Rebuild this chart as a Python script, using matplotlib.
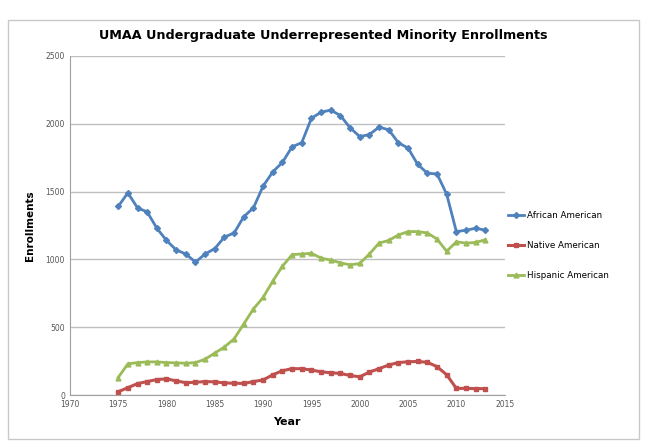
import numpy as np
import matplotlib.pyplot as plt
from matplotlib.patches import Rectangle

# Data
years = list(range(1975, 2014))
african = [1390, 1490, 1380, 1350, 1230, 1140, 1070, 1040, 980, 1040,
           1080, 1165, 1195, 1315, 1380, 1540, 1645, 1715, 1830, 1860,
           2040, 2085, 2100, 2060, 1970, 1905, 1920, 1975, 1955, 1860,
           1820, 1700, 1635, 1630, 1480, 1205, 1215, 1230, 1215]
native = [25, 55, 85, 100, 115, 120, 105, 92, 95, 100,
          98, 90, 88, 86, 100, 112, 150, 180, 195, 195,
          185, 172, 165, 160, 145, 135, 170, 195, 222, 240,
          246, 248, 242, 210, 150, 50, 50, 48, 48]
hispanic = [130, 230, 240, 245, 245, 240, 238, 235, 240, 265,
            310, 355, 415, 525, 635, 720, 840, 950, 1035, 1040,
            1045, 1010, 995, 975, 960, 970, 1040, 1120, 1140, 1180,
            1205, 1205, 1195, 1150, 1060, 1130, 1120, 1125, 1145]

x_ticks = list(range(1970, 2016, 5))
y_ticks = list(range(0, 2501, 500))

fig = plt.figure(figsize=(6.47, 4.43), dpi=100)
fig.patches.append(Rectangle((0.012, 0.01), 0.976, 0.945, transform=fig.transFigure,
                             fill=False, edgecolor='#c8c8c8', linewidth=1))
ax = fig.add_axes([0.108, 0.108, 0.672, 0.766])

ax.plot(years, african, color='#4F81BD', lw=2.0, marker='D', ms=3, label='African American')
ax.plot(years, native, color='#C0504D', lw=2.2, marker='s', ms=3.5, label='Native American')
ax.plot(years, hispanic, color='#9BBB59', lw=2.0, marker='^', ms=3.5, label='Hispanic American')

ax.set_xlim(1970, 2015)
ax.set_ylim(0, 2500)
ax.set_xticks(x_ticks)
ax.set_yticks(y_ticks)
ax.tick_params(labelsize=5.5, colors='#555555', length=0)
ax.yaxis.grid(True, color='#c0c0c0', lw=1)
ax.set_axisbelow(True)
for s in ['top', 'right']:
    ax.spines[s].set_visible(False)
for s in ['left', 'bottom']:
    ax.spines[s].set_color('#a0a0a0')

ax.set_xlabel('Year', fontsize=8, fontweight='bold', labelpad=6)
ax.set_ylabel('Enrollments', fontsize=7.5, fontweight='bold', labelpad=8)
fig.suptitle('UMAA Undergraduate Underrepresented Minority Enrollments',
             x=0.5, y=0.935, fontsize=9.2, fontweight='bold')

ax.legend(loc='center left', bbox_to_anchor=(0.99, 0.44), frameon=False,
          fontsize=6.3, handlelength=1.8, handletextpad=0.3, labelspacing=2.4)

fig.savefig('out.png', dpi=100)
